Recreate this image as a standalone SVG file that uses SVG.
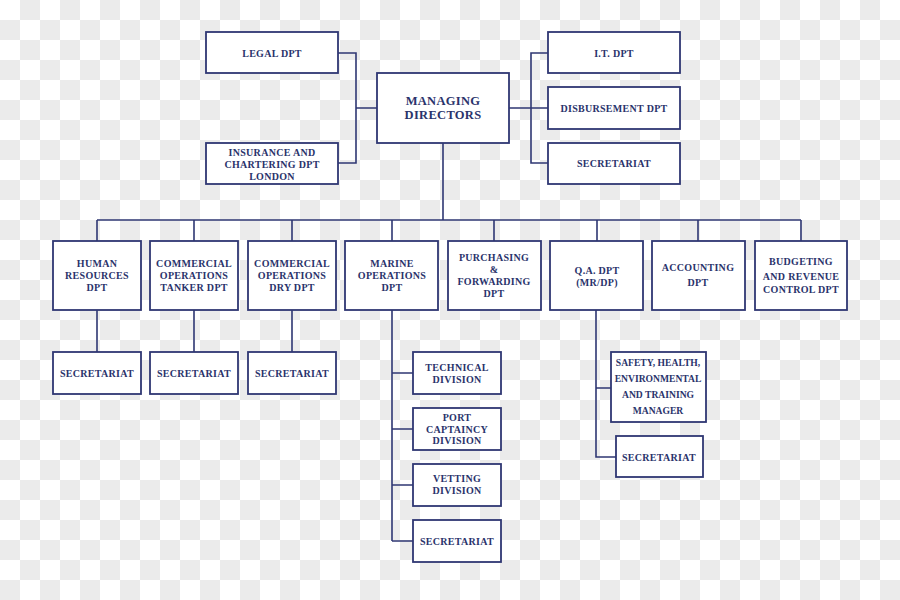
<svg xmlns="http://www.w3.org/2000/svg" width="900" height="600" viewBox="0 0 900 600">
<defs>
<pattern id="chk" width="40" height="40" patternUnits="userSpaceOnUse">
<rect width="40" height="40" fill="#ffffff"/>
<rect x="20" y="0" width="20" height="20" fill="#ebebeb"/>
<rect x="0" y="20" width="20" height="20" fill="#ebebeb"/>
</pattern>
<style>
.b{fill:#fff;stroke:#2f3773;stroke-width:1.8}
.c{fill:none;stroke:#2f3773;stroke-width:1.6}
text{font-family:"Liberation Serif","Times New Roman",serif;font-weight:bold;font-size:10px;fill:#2a336b;text-anchor:middle;dominant-baseline:central;letter-spacing:0.3px}
.big{font-size:12.5px}
.sm{font-size:9.6px;letter-spacing:0}
</style>
</defs>
<rect width="900" height="600" fill="url(#chk)"/>
<g id="connectors">
<path class="c" d="M338,53H356V163H338M356,108H377"/>
<path class="c" d="M509,108H531M548,53H531V163H548M531,108H548"/>
<path class="c" d="M443,143V220M97,220H801M97,220V241M194,220V241M292,220V241M392,220V241M494,220V241M597,220V241M698,220V241M801,220V241"/>
<path class="c" d="M97,310V352M194,310V352M292,310V352"/>
<path class="c" d="M392,310V541M392,373H413M392,429H413M392,485H413M392,541H413"/>
<path class="c" d="M596,310V457H616M596,388H611"/>
</g>
<g id="legal"><rect class="b" x="206" y="32" width="132" height="41"/><text x="272" y="53">LEGAL DPT</text></g>
<g id="insurance"><rect class="b" x="206" y="143" width="132" height="41"/><text x="272" y="152">INSURANCE AND</text><text x="272" y="164">CHARTERING DPT</text><text x="272" y="176">LONDON</text></g>
<g id="md"><rect class="b" x="377" y="73" width="132" height="70"/><text class="big" x="443" y="101">MANAGING</text><text class="big" x="443" y="115">DIRECTORS</text></g>
<g id="it"><rect class="b" x="548" y="32" width="132" height="41"/><text x="614" y="53">I.T. DPT</text></g>
<g id="disb"><rect class="b" x="548" y="87" width="132" height="42"/><text x="614" y="108">DISBURSEMENT DPT</text></g>
<g id="sec-top"><rect class="b" x="548" y="143" width="132" height="41"/><text x="614" y="163">SECRETARIAT</text></g>
<g id="hr"><rect class="b" x="53" y="241" width="88" height="69"/><text x="97" y="263">HUMAN</text><text x="97" y="275">RESOURCES</text><text x="97" y="287">DPT</text></g>
<g id="tanker"><rect class="b" x="150" y="241" width="88" height="69"/><text x="194" y="263">COMMERCIAL</text><text x="194" y="275">OPERATIONS</text><text x="194" y="287">TANKER DPT</text></g>
<g id="dry"><rect class="b" x="248" y="241" width="88" height="69"/><text x="292" y="263">COMMERCIAL</text><text x="292" y="275">OPERATIONS</text><text x="292" y="287">DRY DPT</text></g>
<g id="marine"><rect class="b" x="345" y="241" width="93" height="69"/><text x="392" y="263">MARINE</text><text x="392" y="275">OPERATIONS</text><text x="392" y="287">DPT</text></g>
<g id="purch"><rect class="b" x="448" y="241" width="93" height="69"/><text x="494" y="257">PURCHASING</text><text x="494" y="269">&amp;</text><text x="494" y="281">FORWARDING</text><text x="494" y="293">DPT</text></g>
<g id="qa"><rect class="b" x="550" y="241" width="93" height="69"/><text x="597" y="270">Q.A. DPT</text><text x="597" y="282">(MR/DP)</text></g>
<g id="acc"><rect class="b" x="652" y="241" width="93" height="69"/><text x="698" y="267">ACCOUNTING</text><text x="698" y="282">DPT</text></g>
<g id="budget"><rect class="b" x="755" y="241" width="92" height="69"/><text x="801" y="261">BUDGETING</text><text x="801" y="276">AND REVENUE</text><text x="801" y="289">CONTROL DPT</text></g>
<g id="sec-hr"><rect class="b" x="53" y="352" width="88" height="42"/><text x="97" y="373">SECRETARIAT</text></g>
<g id="sec-tanker"><rect class="b" x="150" y="352" width="88" height="42"/><text x="194" y="373">SECRETARIAT</text></g>
<g id="sec-dry"><rect class="b" x="248" y="352" width="88" height="42"/><text x="292" y="373">SECRETARIAT</text></g>
<g id="technical"><rect class="b" x="413" y="352" width="88" height="42"/><text x="457" y="367">TECHNICAL</text><text x="457" y="379">DIVISION</text></g>
<g id="port"><rect class="b" x="413" y="408" width="88" height="42"/><text x="457" y="417">PORT</text><text x="457" y="429">CAPTAINCY</text><text x="457" y="440">DIVISION</text></g>
<g id="vetting"><rect class="b" x="413" y="464" width="88" height="42"/><text x="457" y="478">VETTING</text><text x="457" y="490">DIVISION</text></g>
<g id="sec-marine"><rect class="b" x="413" y="520" width="88" height="42"/><text x="457" y="541">SECRETARIAT</text></g>
<g id="safety"><rect class="b" x="611" y="352" width="95" height="70"/><text class="sm" x="658" y="362">SAFETY, HEALTH,</text><text class="sm" x="658" y="378">ENVIRONMENTAL</text><text class="sm" x="658" y="394">AND TRAINING</text><text class="sm" x="658" y="410">MANAGER</text></g>
<g id="sec-qa"><rect class="b" x="616" y="436" width="87" height="41"/><text x="659" y="457">SECRETARIAT</text></g>
</svg>
